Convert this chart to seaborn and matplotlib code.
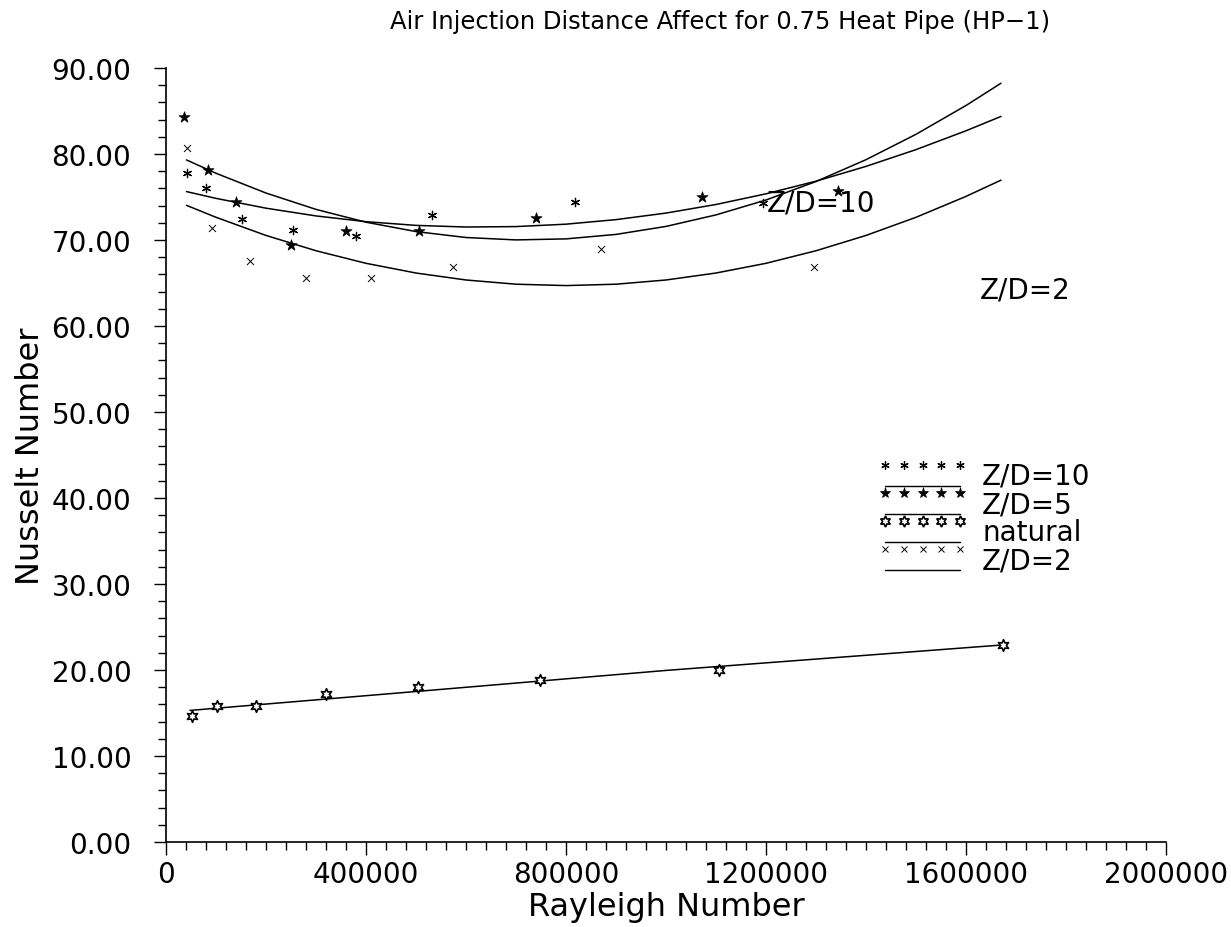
import matplotlib
matplotlib.use('Agg')
import matplotlib.pyplot as plt
import seaborn as sns
from matplotlib.lines import Line2D
from matplotlib.legend_handler import HandlerBase
from matplotlib.ticker import MultipleLocator, FuncFormatter

sns.set_style('ticks')
plt.rcParams['font.family'] = ['DejaVu Sans']
plt.rcParams.update({'text.color': 'black', 'axes.labelcolor': 'black',
                     'xtick.color': 'black', 'ytick.color': 'black',
                     'axes.edgecolor': 'black'})

# measured points (Rayleigh number, Nusselt number)
zd10_ra = [41000, 79300, 152700, 254700, 380700, 532000, 818700, 1194700]
zd10_nu = [77.8, 76.1, 72.4, 71.2, 70.5, 72.9, 74.4, 74.3]

zd5_ra = [36600, 84600, 140000, 250000, 360000, 506700, 739300, 1071300, 1344700]
zd5_nu = [84.3, 78.1, 74.4, 69.4, 71.0, 71.0, 72.6, 75.0, 75.7]

nat_ra = [52700, 102700, 180000, 320000, 504700, 748000, 1106700, 1674700]
nat_nu = [14.7, 15.8, 15.85, 17.2, 18.0, 18.8, 20.0, 22.9]

zd2_ra = [41000, 92700, 168000, 279300, 409300, 573300, 870000, 1296000]
zd2_nu = [80.7, 71.4, 67.6, 65.6, 65.6, 66.9, 68.9, 66.9]

# fitted curves
fit_ra = [41000, 100000, 200000, 300000, 400000, 500000, 600000, 700000, 800000,
          900000, 1000000, 1100000, 1200000, 1300000, 1400000, 1500000, 1600000, 1670000]
fit_zd5 = [79.31, 77.76, 75.46, 73.56, 72.07, 70.98, 70.29, 70.01, 70.13,
           70.65, 71.58, 72.92, 74.65, 76.80, 79.34, 82.29, 85.64, 88.23]
fit_zd10 = [75.63, 74.84, 73.70, 72.80, 72.13, 71.70, 71.51, 71.56, 71.84,
            72.37, 73.13, 74.13, 75.37, 76.84, 78.56, 80.51, 82.70, 84.37]
fit_zd2 = [74.03, 72.64, 70.53, 68.75, 67.29, 66.16, 65.35, 64.86, 64.70,
           64.86, 65.35, 66.16, 67.29, 68.75, 70.53, 72.64, 75.07, 76.96]
fit_nat_ra = [48000, 500000, 1000000, 1670000]
fit_nat = [15.3, 17.5, 19.95, 22.9]

title = 'Air Injection Distance Affect for 0.75 Heat Pipe (HP\u22121)'

# marker styles per series (used for the legend keys)
mk_zd10 = dict(marker=(6, 2, 0), markersize=6, markeredgewidth=0.9, color='black')
mk_zd5 = dict(marker='*', markersize=8, markeredgewidth=0.5, color='black')
mk_nat = dict(marker=(6, 1, 0), markersize=8, markeredgewidth=1.2,
              markerfacecolor='white', markeredgecolor='black')
mk_zd2 = dict(marker='x', markersize=5, markeredgewidth=0.7, color='black')

fig = plt.figure(figsize=(12.31, 9.28), dpi=100)
ax = fig.add_axes([166 / 1231, 1 - 843 / 928, 1000 / 1231, 774 / 928])

# fitted curves
for xs, ys in [(fit_ra, fit_zd5), (fit_ra, fit_zd10), (fit_ra, fit_zd2), (fit_nat_ra, fit_nat)]:
    sns.lineplot(x=xs, y=ys, color='black', lw=1.1, ax=ax)

# data points
sns.scatterplot(x=zd10_ra, y=zd10_nu, marker=(6, 2, 0), s=36, color='black',
                linewidth=0.9, ax=ax, zorder=3)
sns.scatterplot(x=zd5_ra, y=zd5_nu, marker='*', s=70, color='black',
                edgecolor='black', linewidth=0.5, ax=ax, zorder=3)
sns.scatterplot(x=nat_ra, y=nat_nu, marker=(6, 1, 0), s=70, facecolor='white',
                edgecolor='black', linewidth=1.2, ax=ax, zorder=3)
sns.scatterplot(x=zd2_ra, y=zd2_nu, marker='x', s=25, color='black',
                linewidth=0.7, ax=ax, zorder=3)

ax.set_xlim(0, 2000000)
ax.set_ylim(0, 90)
sns.despine(ax=ax)
for sp in ['left', 'bottom']:
    ax.spines[sp].set_linewidth(1.2)

ax.xaxis.set_major_locator(MultipleLocator(400000))
ax.xaxis.set_minor_locator(MultipleLocator(40000))
ax.yaxis.set_major_locator(MultipleLocator(10))
ax.yaxis.set_minor_locator(MultipleLocator(2))
ax.xaxis.set_major_formatter(FuncFormatter(lambda v, p: f'{v:.0f}'))
ax.yaxis.set_major_formatter(FuncFormatter(lambda v, p: f'{v:.2f}'))
ax.tick_params(which='major', length=9, width=1.0, labelsize=20, direction='out')
ax.tick_params(which='minor', length=5.5, width=1.0, direction='out')
ax.tick_params(axis='y', which='major', pad=16)
ax.tick_params(axis='x', which='major', pad=4)

ax.set_xlabel('Rayleigh Number', fontsize=23, labelpad=2)
ax.set_ylabel('Nusselt Number', fontsize=23, labelpad=4)

fig.text(0.585, 1 - 22 / 928, title, ha='center', va='center', fontsize=17.5)

ax.text(1202000, 74.4, 'Z/D=10', va='center', ha='left', fontsize=20)
ax.text(1628000, 64.3, 'Z/D=2', va='center', ha='left', fontsize=20)


class MarkerOverLine(HandlerBase):
    def __init__(self, marker_kw):
        super().__init__()
        self.marker_kw = marker_kw

    def create_artists(self, legend, orig_handle, xdescent, ydescent, width, height,
                       fontsize, trans):
        x0 = -xdescent
        xs = [x0 + width * i / 4 for i in range(5)]
        ym = -ydescent + height * 1.0
        yl = -ydescent - height * 0.1
        m = Line2D(xs, [ym] * 5, linestyle='none', **self.marker_kw)
        l = Line2D([x0, x0 + width], [yl, yl], color='black', lw=1.0)
        m.set_transform(trans)
        l.set_transform(trans)
        return [m, l]


leg_names = ['Z/D=10', 'Z/D=5', 'natural', 'Z/D=2']
leg_styles = [mk_zd10, mk_zd5, mk_nat, mk_zd2]
handles = [Line2D([], []) for _ in leg_names]
hmap = {h: MarkerOverLine(st) for h, st in zip(handles, leg_styles)}
ax.legend(handles, leg_names, handler_map=hmap, loc='upper left',
          bbox_to_anchor=(885 / 1231, 1 - 463 / 928), bbox_transform=fig.transFigure,
          frameon=False, fontsize=20, handlelength=2.7, handletextpad=0.8,
          labelspacing=0.0, borderpad=0, borderaxespad=0)

fig.savefig('out.png', dpi=100, facecolor='white')
